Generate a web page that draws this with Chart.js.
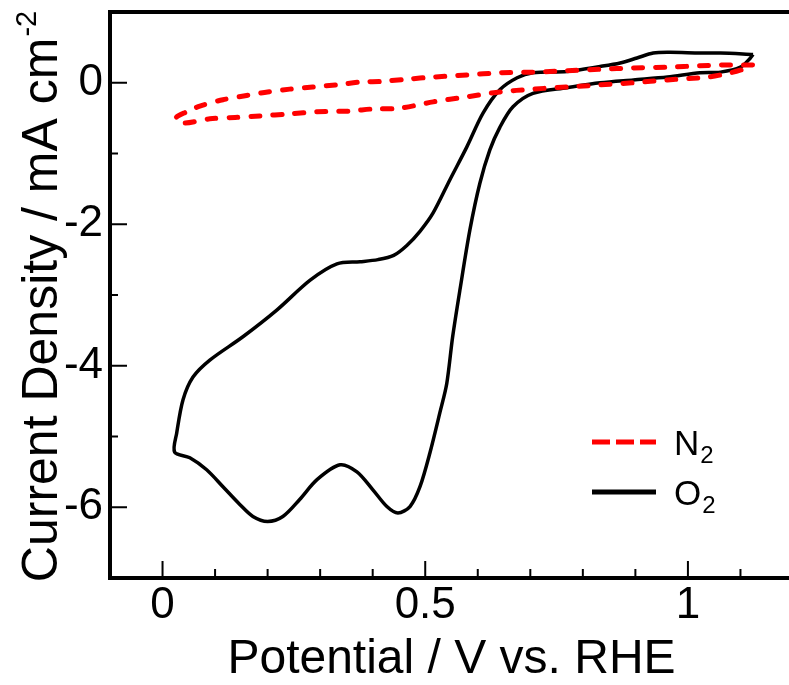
<!DOCTYPE html>
<html>
<head>
<meta charset="utf-8">
<script src="https://cdn.jsdelivr.net/npm/chart.js@4.4.0/dist/chart.umd.min.js"></script>
<style>
html, body { margin: 0; padding: 0; background: #fff; overflow: hidden; }
#wrap { width: 800px; height: 685px; }
</style>
</head>
<body>
<div id="wrap"><canvas id="cv" width="800" height="685"></canvas></div>
<script>
// O2 loop, starting at the right vertex, upper branch going left, lower branch back
const o2Potential = [1.124, 1.062, 1.023, 0.966, 0.934, 0.903, 0.871, 0.833, 0.770, 0.705, 0.675, 0.642, 0.610, 0.579, 0.547, 0.515, 0.490, 0.465, 0.440, 0.410, 0.376, 0.332, 0.281, 0.218, 0.153, 0.090, 0.058, 0.039, 0.027, 0.023,
    0.052, 0.084, 0.115, 0.147, 0.172, 0.200, 0.229, 0.261, 0.294, 0.338, 0.370, 0.400, 0.427, 0.448, 0.471, 0.490, 0.509, 0.528, 0.541, 0.552, 0.566, 0.585, 0.604, 0.623, 0.642, 0.667, 0.705, 0.770, 0.833, 0.896, 0.961, 1.023, 1.062, 1.100, 1.119, 1.124];
const o2Current = [0.40, 0.42, 0.42, 0.43, 0.42, 0.35, 0.28, 0.23, 0.16, 0.14, 0.07, -0.10, -0.43, -0.91, -1.37, -1.84, -2.10, -2.30, -2.44, -2.50, -2.53, -2.56, -2.79, -3.21, -3.59, -3.92, -4.16, -4.48, -4.95, -5.22,
    -5.30, -5.47, -5.71, -5.96, -6.13, -6.20, -6.13, -5.89, -5.61, -5.40, -5.50, -5.75, -5.99, -6.08, -5.99, -5.71, -5.23, -4.66, -4.25, -3.60, -2.93, -2.08, -1.42, -0.95, -0.63, -0.34, -0.15, -0.07, 0.00, 0.04, 0.08, 0.14, 0.15, 0.22, 0.35, 0.40];

// N2 loop, same order
const n2Potential = [1.123, 1.062, 1.023, 0.961, 0.896, 0.833, 0.770, 0.705, 0.642, 0.579, 0.515, 0.465, 0.419, 0.376, 0.332, 0.286, 0.242, 0.200, 0.160, 0.115, 0.071, 0.046, 0.025,
    0.039, 0.090, 0.138, 0.185, 0.242, 0.294, 0.357, 0.400, 0.452, 0.515, 0.579, 0.642, 0.705, 0.770, 0.833, 0.896, 0.961, 1.037, 1.081, 1.113, 1.123];
const n2Current = [0.25, 0.25, 0.24, 0.22, 0.21, 0.19, 0.17, 0.15, 0.14, 0.11, 0.08, 0.05, 0.02, 0.01, -0.03, -0.06, -0.09, -0.13, -0.18, -0.24, -0.33, -0.41, -0.50,
    -0.57, -0.51, -0.49, -0.47, -0.44, -0.41, -0.40, -0.37, -0.36, -0.27, -0.20, -0.13, -0.09, -0.06, -0.03, 0.00, 0.04, 0.08, 0.14, 0.21, 0.25];

const xTickLabels = [0, 0.5, 1];
const xMinorTicks = [0.1, 0.2, 0.3, 0.4, 0.6, 0.7, 0.8, 0.9, 1.1];
const yTickLabels = [0, -2, -4, -6];
const yMinorTicks = [-1, -3, -5];

const FONT = "'Liberation Sans', Arial, sans-serif";

function toPoints(xs, ys) {
    return xs.map((x, i) => ({ x: x, y: ys[i] }));
}

// frame and inward ticks
const framePlugin = {
    id: 'frame',
    afterDraw(chart) {
        const ctx = chart.ctx;
        const a = chart.chartArea;
        const xs = chart.scales.x, ys = chart.scales.y;
        ctx.save();
        ctx.strokeStyle = '#000';
        ctx.lineCap = 'butt';
        ctx.lineWidth = 2;
        ctx.beginPath();
        xTickLabels.forEach(v => { const p = xs.getPixelForValue(v); ctx.moveTo(p, a.bottom); ctx.lineTo(p, a.bottom - 17); });
        xMinorTicks.forEach(v => { const p = xs.getPixelForValue(v); ctx.moveTo(p, a.bottom); ctx.lineTo(p, a.bottom - 9); });
        yTickLabels.forEach(v => { const p = ys.getPixelForValue(v); ctx.moveTo(a.left, p); ctx.lineTo(a.left + 17, p); });
        yMinorTicks.forEach(v => { const p = ys.getPixelForValue(v); ctx.moveTo(a.left, p); ctx.lineTo(a.left + 8, p); });
        ctx.stroke();
        ctx.lineWidth = 4;
        ctx.lineCap = 'square';
        ctx.beginPath();
        ctx.moveTo(a.right, a.top);
        ctx.lineTo(a.left, a.top);
        ctx.lineTo(a.left, a.bottom);
        ctx.lineTo(a.right, a.bottom);
        ctx.stroke();
        ctx.restore();
    }
};

// y title with superscript
const yTitlePlugin = {
    id: 'ytitle',
    afterDraw(chart) {
        const ctx = chart.ctx;
        const a = chart.chartArea;
        const main = 'Current Density / mA cm';
        const sup = '-2';
        ctx.save();
        ctx.fillStyle = '#000';
        ctx.font = '50px ' + FONT;
        const w1 = ctx.measureText(main).width;
        ctx.font = '29px ' + FONT;
        const w2 = ctx.measureText(sup).width;
        const total = w1 + w2;
        ctx.translate(57, (a.top + a.bottom) / 2 + 2);
        ctx.rotate(-Math.PI / 2);
        ctx.textBaseline = 'alphabetic';
        ctx.textAlign = 'left';
        ctx.font = '50px ' + FONT;
        ctx.fillText(main, -total / 2, 0);
        ctx.font = '29px ' + FONT;
        ctx.fillText(sup, -total / 2 + w1 + 1, -21);
        ctx.restore();
    }
};

// legend with subscripts
const legendPlugin = {
    id: 'sublegend',
    afterDraw(chart) {
        const ctx = chart.ctx;
        const rows = [
            { ds: chart.data.datasets[0], y: 442, dash: [18, 6] },
            { ds: chart.data.datasets[1], y: 492, dash: [] }
        ];
        ctx.save();
        rows.forEach(r => {
            ctx.strokeStyle = r.ds.borderColor;
            ctx.lineWidth = 5;
            ctx.lineCap = 'butt';
            ctx.setLineDash(r.dash);
            ctx.beginPath();
            ctx.moveTo(592, r.y);
            ctx.lineTo(656, r.y);
            ctx.stroke();
            ctx.setLineDash([]);
            ctx.fillStyle = '#000';
            ctx.textBaseline = 'alphabetic';
            ctx.font = '35px ' + FONT;
            const name = r.ds.label.slice(0, 1);
            ctx.fillText(name, 674, r.y + 13);
            const w = ctx.measureText(name).width;
            ctx.font = '24px ' + FONT;
            ctx.fillText(r.ds.label.slice(1), 674 + w + 1, r.y + 21);
        });
        ctx.restore();
    }
};

new Chart(document.getElementById('cv'), {
    type: 'scatter',
    data: {
        datasets: [
            {
                label: 'N2',
                data: toPoints(n2Potential, n2Current),
                showLine: true,
                borderColor: '#ff0000',
                borderWidth: 5,
                borderDash: [9, 13],
                borderCapStyle: 'round',
                tension: 0.3,
                pointRadius: 0
            },
            {
                label: 'O2',
                data: toPoints(o2Potential, o2Current),
                showLine: true,
                borderColor: '#000000',
                borderWidth: 3.5,
                tension: 0.3,
                pointRadius: 0
            }
        ]
    },
    options: {
        responsive: false,
        animation: false,
        devicePixelRatio: 1,
        layout: { padding: { left: 0, right: 7, top: 12, bottom: 0 } },
        plugins: {
            legend: { display: false },
            tooltip: { enabled: false }
        },
        scales: {
            x: {
                type: 'linear',
                min: -0.1,
                max: 1.2,
                grid: { display: false, drawTicks: false },
                border: { display: false },
                afterBuildTicks: s => { s.ticks = xTickLabels.map(v => ({ value: v })); },
                afterFit: s => { s.height = 107; s.paddingLeft = 0; s.paddingRight = 0; },
                ticks: {
                    color: '#000',
                    font: { family: FONT, size: 44 },
                    padding: 1,
                    maxRotation: 0,
                    callback: v => String(v)
                },
                title: {
                    display: true,
                    text: 'Potential / V vs. RHE',
                    color: '#000',
                    font: { family: FONT, size: 48 },
                    padding: { top: 0, bottom: -4 }
                }
            },
            y: {
                type: 'linear',
                min: -7,
                max: 1,
                grid: { display: false, drawTicks: false },
                border: { display: false },
                afterBuildTicks: s => { s.ticks = yTickLabels.map(v => ({ value: v })); },
                afterFit: s => { s.width = 110; s.paddingTop = 0; s.paddingBottom = 0; },
                ticks: {
                    color: '#000',
                    font: { family: FONT, size: 44 },
                    padding: 7,
                    callback: v => String(v)
                }
            }
        }
    },
    plugins: [framePlugin, yTitlePlugin, legendPlugin]
});
</script>
</body>
</html>
